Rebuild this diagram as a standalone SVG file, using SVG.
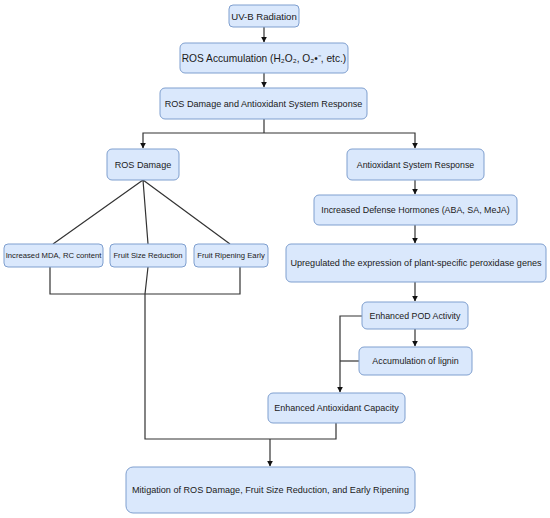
<svg xmlns="http://www.w3.org/2000/svg" width="550" height="518" viewBox="0 0 550 518">
<defs>
<style>
.box{fill:#dae8fc;stroke:#7f9fcf;stroke-width:1}
.t{font-family:"Liberation Sans",Arial,sans-serif;fill:#1a1a1a;text-anchor:middle;dominant-baseline:central}
.c{fill:none;stroke:#333;stroke-width:1.2}
</style>
<marker id="arr" viewBox="0 0 10 10" refX="9" refY="5" markerWidth="6" markerHeight="6" markerUnits="userSpaceOnUse" orient="auto">
<path d="M0,0 L10,5 L0,10 Z" fill="#111"/>
</marker>
</defs>
<rect width="550" height="518" fill="#fff"/>
<g id="connectors">
<path class="c" d="M264,27 V42" marker-end="url(#arr)"/>
<path class="c" d="M264,73 V87" marker-end="url(#arr)"/>
<path class="c" d="M264,119 V133"/>
<path class="c" d="M264,133 H143 V148" marker-end="url(#arr)"/>
<path class="c" d="M264,133 H415 V148" marker-end="url(#arr)"/>
<path class="c" d="M415,180 V194" marker-end="url(#arr)"/>
<path class="c" d="M415,225 V243" marker-end="url(#arr)"/>
<path class="c" d="M415,282 V301" marker-end="url(#arr)"/>
<path class="c" d="M415,329 V346" marker-end="url(#arr)"/>
<path class="c" d="M362,316 H340 V392" marker-end="url(#arr)"/>
<path class="c" d="M359,361 H340"/>
<path class="c" d="M143,180 L53,244 M143,180 L148,244 M143,180 L230,244"/>
<path class="c" d="M50,267 V294 H240 V267"/>
<path class="c" d="M148,267 L145,294 V439 H336 V423"/>
<path class="c" d="M270,439 V466" marker-end="url(#arr)"/>
</g>
<g id="uvb"><rect class="box" x="229" y="5" width="70" height="22" rx="4"/><text class="t" x="264" y="16" font-size="9.6">UV-B Radiation</text></g>
<g id="rosacc"><rect class="box" x="180" y="43" width="168" height="30" rx="5"/><text class="t" x="264" y="58" font-size="10.2">ROS Accumulation (H₂O₂, O₂•⁻, etc.)</text></g>
<g id="rosda"><rect class="box" x="160" y="88" width="207" height="31" rx="5"/><text class="t" x="263.5" y="103.5" font-size="9.1">ROS Damage and Antioxidant System Response</text></g>
<g id="rosdmg"><rect class="box" x="107" y="149" width="72" height="31" rx="5"/><text class="t" x="143" y="164.5" font-size="9.1">ROS Damage</text></g>
<g id="mda"><rect class="box" x="4" y="244" width="99" height="23" rx="4"/><text class="t" x="53.5" y="255.5" font-size="7.7">Increased MDA, RC content</text></g>
<g id="fsr"><rect class="box" x="110" y="244" width="76" height="23" rx="4"/><text class="t" x="148" y="255.5" font-size="7.7">Fruit Size Reduction</text></g>
<g id="fre"><rect class="box" x="194" y="244" width="74" height="23" rx="4"/><text class="t" x="231" y="255.5" font-size="7.7">Fruit Ripening Early</text></g>
<g id="asr"><rect class="box" x="347" y="149" width="137" height="31" rx="5"/><text class="t" x="415.5" y="164.5" font-size="8.8">Antioxidant System Response</text></g>
<g id="hormones"><rect class="box" x="314" y="195" width="203" height="30" rx="5"/><text class="t" x="415.5" y="210" font-size="8.9">Increased Defense Hormones (ABA, SA, MeJA)</text></g>
<g id="upreg"><rect class="box" x="286" y="244" width="260" height="38" rx="5"/><text class="t" x="416" y="263" font-size="9.1">Upregulated the expression of plant-specific peroxidase genes</text></g>
<g id="pod"><rect class="box" x="362" y="302" width="106" height="27" rx="5"/><text class="t" x="415" y="315.5" font-size="8.8">Enhanced POD Activity</text></g>
<g id="lignin"><rect class="box" x="359" y="347" width="113" height="28" rx="5"/><text class="t" x="415.5" y="361" font-size="8.9">Accumulation of lignin</text></g>
<g id="eac"><rect class="box" x="268" y="393" width="137" height="30" rx="5"/><text class="t" x="336.5" y="408" font-size="9">Enhanced Antioxidant Capacity</text></g>
<g id="mitig"><rect class="box" x="126" y="467" width="289" height="46" rx="7"/><text class="t" x="270.5" y="490" font-size="9.1">Mitigation of ROS Damage, Fruit Size Reduction, and Early Ripening</text></g>
</svg>
